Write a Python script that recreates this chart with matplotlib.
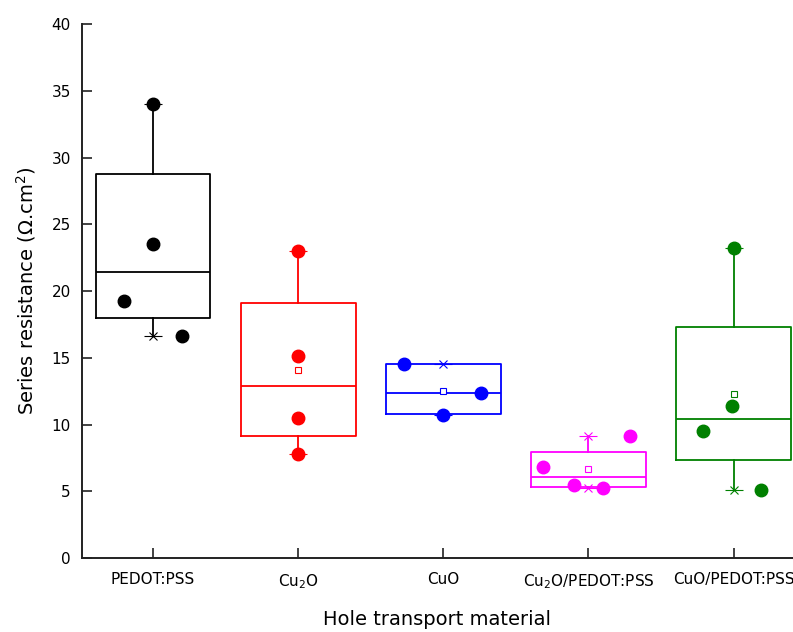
import matplotlib
matplotlib.use("Agg")
import matplotlib.pyplot as plt
import numpy as np

plt.rcParams['font.family'] = ['DejaVu Sans']
plt.rcParams['mathtext.fontset'] = 'dejavusans'

categories = ['PEDOT:PSS', r'Cu$_2$O', 'CuO', r'Cu$_2$O/PEDOT:PSS', 'CuO/PEDOT:PSS']
colors = ['#000000', '#ff0000', '#0000ff', '#ff00ff', '#008000']

# Measured series resistance values per hole transport material
pedot_vals = [34.0, 23.5, 19.25, 16.6]
cu2o_vals = [23.0, 15.15, 10.5, 7.8]
cuo_vals = [14.55, 12.35, 10.75]
cu2o_pedot_vals = [6.84, 5.47, 5.27, 9.14]
cuo_pedot_vals = [23.2, 11.41, 9.54, 5.09]

# Horizontal jitter of the data points (category units)
pedot_jit = [0.0, 0.0, -0.2, 0.2]
cu2o_jit = [0.0, 0.0, 0.0, 0.0]
cuo_jit = [-0.27, 0.26, 0.0]
cu2o_pedot_jit = [-0.31, -0.10, 0.10, 0.29]
cuo_pedot_jit = [0.0, -0.01, -0.21, 0.19]

# Box statistics
q1 = [17.98, 9.14, 10.79, 5.30, 7.34]
median = [21.4, 12.88, 12.33, 6.09, 10.44]
q3 = [28.76, 19.1, 14.53, 7.96, 17.28]

values = [pedot_vals, cu2o_vals, cuo_vals, cu2o_pedot_vals, cuo_pedot_vals]
jitters = [pedot_jit, cu2o_jit, cuo_jit, cu2o_pedot_jit, cuo_pedot_jit]

fig = plt.figure(figsize=(7.93, 6.32), dpi=100)
ax = fig.add_axes([0.1034, 0.117, 0.8966, 0.845])

positions = np.arange(1, len(categories) + 1)
box_w = 0.79

for i, (pos, vals, jit, col) in enumerate(zip(positions, values, jitters, colors)):
    vmin, vmax = min(vals), max(vals)
    stats = [dict(med=median[i], q1=q1[i], q3=q3[i], whislo=vmin, whishi=vmax,
                  mean=float(np.mean(vals)), fliers=[])]
    ax.bxp(stats, positions=[pos], widths=box_w, showmeans=False, showcaps=False,
           boxprops=dict(color=col, lw=1.3),
           medianprops=dict(color=col, lw=1.3),
           whiskerprops=dict(color=col, lw=1.3),
           manage_ticks=False, zorder=2)
    # min / max markers
    ax.plot([pos, pos], [vmin, vmax], ls='none', marker='x', ms=5.5, mew=0.8,
            color=col, zorder=3)
    ax.plot([pos, pos], [vmin, vmax], ls='none', marker='_', ms=12.5, mew=0.8,
            color=col, zorder=3)
    # mean marker
    ax.plot([pos], [np.mean(vals)], ls='none', marker='s', ms=4.5,
            mfc='white', mec=col, mew=0.8, zorder=3)
    # data points
    ax.plot(pos + np.array(jit), vals, ls='none', marker='o', ms=9,
            color=col, zorder=4)

ax.set_xlim(0.51, 5.41)
ax.set_ylim(0, 40)
ax.set_yticks(np.arange(0, 41, 5))
ax.set_xticks(positions)
ax.set_xticklabels(categories)

for s in ['top', 'right']:
    ax.spines[s].set_visible(False)
for s in ['left', 'bottom']:
    ax.spines[s].set_linewidth(1.4)
    ax.spines[s].set_color('#222222')

ax.tick_params(axis='both', direction='in', length=7, width=1.2,
               labelsize=11, color='#222222')
ax.tick_params(axis='y', pad=8)
ax.tick_params(axis='x', pad=10)

ax.set_ylabel('Series resistance (Ω.cm$^2$)', fontsize=14, labelpad=10)
ax.set_xlabel('Hole transport material', fontsize=14, labelpad=14)

fig.savefig('out.png', dpi=100)
